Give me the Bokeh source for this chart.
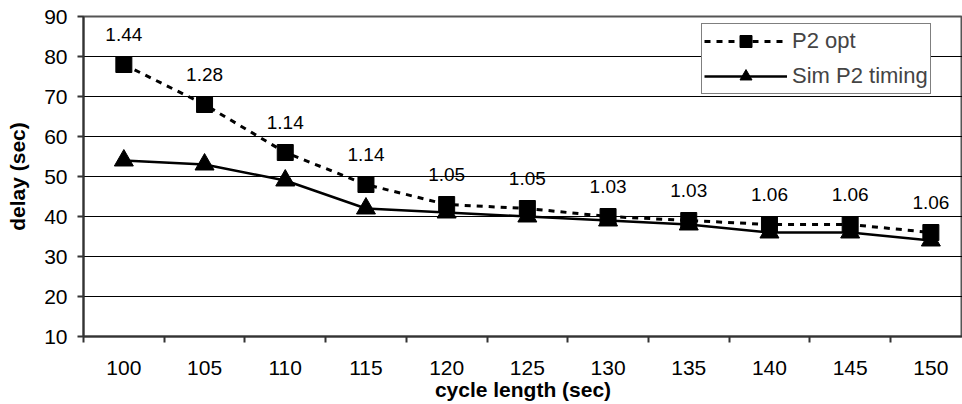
from bokeh.plotting import figure
from bokeh.models import FixedTicker, Range1d, Legend, LegendItem
from bokeh.embed import file_html
from bokeh.resources import INLINE
from bokeh.core.properties import value

cycle = [100, 105, 110, 115, 120, 125, 130, 135, 140, 145, 150]
p2_opt = [78, 68, 56, 48, 43, 42, 40, 39, 38, 38, 36]
sim_p2 = [54, 53, 49, 42, 41, 40, 39, 38, 36, 36, 34]
ratio = ["1.44", "1.28", "1.14", "1.14", "1.05", "1.05", "1.03", "1.03", "1.06", "1.06", "1.06"]
y_ticks = [10, 20, 30, 40, 50, 60, 70, 80, 90]

FONT = "Liberation Sans"

p = figure(width=962, height=404,
           x_range=Range1d(97.5, 151.96), y_range=Range1d(10, 90),
           output_backend="svg", toolbar_location=None,
           min_border_left=83, min_border_top=16, min_border_right=0, min_border_bottom=68)

p.background_fill_color = "white"
p.border_fill_color = "white"
p.outline_line_color = "#555555"
p.outline_line_width = 2

# grids
p.xgrid.grid_line_color = None
p.ygrid.grid_line_color = "black"
p.ygrid.grid_line_width = 1
p.ygrid.ticker = FixedTicker(ticks=y_ticks)

# x axis: labels at category centres, tick marks at boundaries
bounds = [c - 2.5 for c in cycle] + [cycle[-1] + 2.5]
p.xaxis.ticker = FixedTicker(ticks=cycle, minor_ticks=bounds)
p.xaxis.major_tick_out = 0
p.xaxis.major_tick_in = 0
p.xaxis.minor_tick_out = 6
p.xaxis.minor_tick_in = 0
p.xaxis.minor_tick_line_color = "#333333"
p.xaxis.minor_tick_line_width = 2
p.xaxis.axis_label = "cycle length (sec)"
p.xaxis.major_label_standoff = 18
p.xaxis.axis_label_standoff = 0

p.yaxis.ticker = FixedTicker(ticks=y_ticks)
p.yaxis.major_tick_out = 6
p.yaxis.major_tick_in = 0
p.yaxis.minor_tick_out = 0
p.yaxis.minor_tick_in = 0
p.yaxis.major_tick_line_color = "#333333"
p.yaxis.major_tick_line_width = 2
p.yaxis.axis_label = "delay (sec)"
p.yaxis.major_label_standoff = 10
p.yaxis.axis_label_standoff = 12

for ax in (p.xaxis[0], p.yaxis[0]):
    ax.axis_line_color = "#333333"
    ax.axis_line_width = 2
    ax.major_label_text_font = FONT
    ax.major_label_text_font_size = "21px"
    ax.major_label_text_color = "black"
    ax.axis_label_text_font = FONT
    ax.axis_label_text_font_size = "21px"
    ax.axis_label_text_font_style = "bold"
    ax.axis_label_text_color = "black"

# series
l1 = p.line(cycle, p2_opt, line_color="black", line_width=3, line_dash="6 6")
s1 = p.scatter(cycle, p2_opt, marker="square", size=16, fill_color="black", line_color="black")
l2 = p.line(cycle, sim_p2, line_color="black", line_width=2.5)
s2 = p.scatter(cycle, sim_p2, marker="triangle", size=19, fill_color="black", line_color="black")

# ratio labels above the P2 opt points
p.text(cycle, p2_opt, text=ratio, y_offset=-30, text_align="center", text_baseline="middle",
       text_font=value(FONT), text_font_size="19px", text_color="black")

legend = Legend(items=[LegendItem(label="P2 opt", renderers=[l1, s1]),
                       LegendItem(label="Sim P2 timing", renderers=[l2, s2])],
                location=(618, 242))
legend.border_line_color = "black"
legend.border_line_width = 1
legend.background_fill_color = "white"
legend.background_fill_alpha = 1
legend.label_text_font = FONT
legend.label_text_font_size = "22px"
legend.glyph_width = 83
legend.glyph_height = 30
legend.label_height = 30
legend.label_standoff = 5
legend.spacing = 5
legend.padding = 2
legend.margin = 0
p.add_layout(legend)

open("out.html", "w").write(file_html(p, INLINE))
